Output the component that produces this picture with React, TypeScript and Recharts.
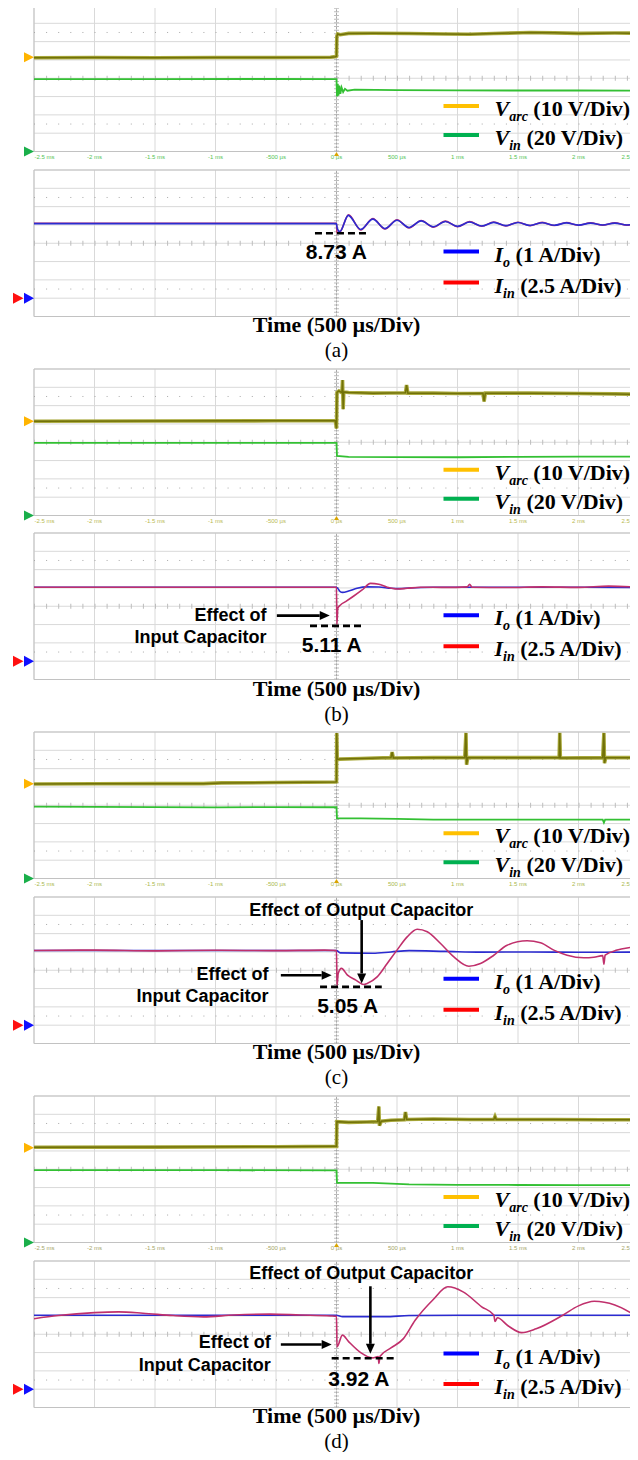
import React from "react";
import { LineChart, Line, XAxis, YAxis, CartesianGrid, ReferenceLine, ReferenceArea } from "recharts";

type P = [number, number];

// ---------- axes ----------
const TICKS = [-2.5, -2, -1.5, -1, -0.5, 0, 0.5, 1, 1.5, 2, 2.5];
const TICK_LABELS = ["-2.5 ms", "-2 ms", "-1.5 ms", "-1 ms", "-500 µs", "0 µs", "500 µs", "1 ms", "1.5 ms", "2 ms", "2.5 ms"];
const GRID_Y = [-4, -3, -2, -1, 0, 1, 2, 3, 4];
const DOT_ROWS = [2.5, -2.5];
const CAPTIONS = ["(a)", "(b)", "(c)", "(d)"];
const PEAK_LABELS = ["8.73 A", "5.11 A", "5.05 A", "3.92 A"];

// ---------- data: [time ms, divisions from centre] ----------
const A_VARC: P[] = [[-2.5, 1.12], [-2.0, 1.13], [-1.5, 1.12], [-1.0, 1.13], [-0.5, 1.13], [-0.05, 1.15], [-0.01, 1.18], [0, 1.2], [0.003, 2.3], [0.01, 2.42], [0.03, 2.38], [0.1, 2.45], [0.3, 2.46], [0.6, 2.44], [0.9, 2.42], [1.1, 2.4], [1.3, 2.44], [1.6, 2.5], [1.8, 2.48], [2.0, 2.45], [2.3, 2.47], [2.5, 2.46]];
const A_VIN: P[] = [[-2.5, -0.05], [-1.5, -0.05], [-0.5, -0.04], [0, -0.05], [0.004, -1.0], [0.01, -0.3], [0.016, -0.95], [0.024, -0.4], [0.032, -0.85], [0.042, -0.5], [0.055, -0.75], [0.07, -0.58], [0.09, -0.68], [0.15, -0.62], [0.5, -0.65], [1.0, -0.66], [1.5, -0.67], [2.0, -0.67], [2.5, -0.68]];
const A_IO: P[] = [[-2.5, 1.07], [-1.5, 1.07], [-0.5, 1.07], [0, 1.07], [0.006, 0.8], [0.028, 0.64], [0.097, 1.52], [0.2, 0.75], [0.3, 1.32], [0.4, 0.8], [0.5, 1.26], [0.6, 0.86], [0.7, 1.22], [0.8, 0.9], [0.9, 1.19], [1.0, 0.92], [1.1, 1.16], [1.2, 0.94], [1.3, 1.14], [1.4, 0.96], [1.5, 1.13], [1.6, 0.97], [1.7, 1.12], [1.8, 0.98], [1.9, 1.11], [2.0, 0.99], [2.1, 1.1], [2.2, 1.0], [2.3, 1.1], [2.4, 1.0], [2.5, 1.08]];
const A_IIN: P[] = [[-2.5, 1.09], [-1.5, 1.09], [-0.5, 1.09], [0, 1.09], [0.004, 0.55], [0.03, 0.62], [0.1, 1.55], [0.2, 0.73], [0.3, 1.35], [0.4, 0.78], [0.5, 1.28], [0.6, 0.84], [0.7, 1.24], [0.8, 0.88], [0.9, 1.21], [1.0, 0.9], [1.1, 1.18], [1.2, 0.93], [1.3, 1.16], [1.4, 0.95], [1.5, 1.15], [1.6, 0.96], [1.7, 1.14], [1.8, 0.97], [1.9, 1.13], [2.0, 0.98], [2.1, 1.12], [2.2, 0.99], [2.3, 1.12], [2.4, 0.99], [2.5, 1.1]];

const B_VARC: P[] = [[-2.5, 1.15], [-1.5, 1.16], [-0.5, 1.17], [-0.01, 1.17], [0, 0.75], [0.004, 2.72], [0.02, 2.8], [0.045, 2.7], [0.05, 3.4], [0.055, 1.8], [0.06, 2.75], [0.1, 2.72], [0.3, 2.68], [0.57, 2.7], [0.579, 3.12], [0.59, 2.68], [0.8, 2.68], [1.0, 2.66], [1.21, 2.67], [1.22, 2.23], [1.23, 2.68], [1.6, 2.68], [2.0, 2.66], [2.3, 2.64], [2.5, 2.62]];
const B_VIN: P[] = [[-2.5, -0.03], [-1.0, -0.03], [0, -0.03], [0.004, -0.75], [0.1, -0.8], [0.5, -0.81], [1.0, -0.82], [1.5, -0.8], [2.0, -0.79], [2.5, -0.79]];
const B_IO: P[] = [[-2.5, 1.04], [-1.0, 1.04], [0, 1.04], [0.03, 0.8], [0.05, 0.76], [0.1, 0.83], [0.17, 0.98], [0.25, 1.06], [0.35, 1.05], [0.45, 0.98], [0.52, 0.96], [0.6, 1.0], [0.8, 1.04], [1.5, 1.04], [2.5, 1.03]];
const B_IIN: P[] = [[-2.5, 1.04], [-1.0, 1.04], [0, 1.04], [0.003, -1.0], [0.011, -0.11], [0.033, 0.07], [0.074, 0.25], [0.143, 0.56], [0.212, 0.89], [0.281, 1.25], [0.35, 1.2], [0.419, 1.04], [0.5, 0.94], [0.584, 0.98], [0.694, 1.04], [0.9, 1.03], [1.08, 1.06], [1.1, 1.2], [1.12, 1.04], [1.4, 1.02], [1.7, 1.06], [2.0, 1.03], [2.25, 1.1], [2.5, 1.04]];

const C_VARC: P[] = [[-2.5, 1.16], [-2.0, 1.17], [-1.5, 1.18], [-1.1, 1.18], [-0.95, 1.22], [-0.5, 1.24], [-0.01, 1.27], [0, 1.28], [0.002, 3.95], [0.006, 2.5], [0.03, 2.52], [0.2, 2.55], [0.45, 2.6], [0.46, 2.9], [0.47, 2.58], [0.8, 2.6], [1.06, 2.6], [1.07, 3.95], [1.075, 2.22], [1.085, 2.6], [1.5, 2.6], [1.84, 2.6], [1.845, 3.95], [1.85, 2.58], [2.2, 2.6], [2.21, 3.95], [2.215, 2.3], [2.225, 2.6], [2.5, 2.6]];
const C_VIN: P[] = [[-2.5, -0.08], [-1.5, -0.1], [-1.0, -0.12], [-0.5, -0.1], [0, -0.11], [0.004, -0.72], [0.2, -0.72], [0.5, -0.74], [0.8, -0.78], [1.2, -0.79], [1.6, -0.78], [2.0, -0.79], [2.2, -0.79], [2.21, -0.95], [2.22, -0.79], [2.5, -0.79]];
const C_IO: P[] = [[-2.5, 1.08], [-1.0, 1.08], [0, 1.08], [0.03, 0.95], [0.3, 0.93], [0.45, 1.0], [0.6, 1.07], [0.9, 1.03], [1.2, 0.99], [1.6, 1.0], [2.0, 0.98], [2.5, 0.99]];
const C_IIN: P[] = [[-2.5, 1.08], [-2.0, 1.1], [-1.5, 1.06], [-1.0, 1.09], [-0.5, 1.07], [-0.1, 1.1], [0, 1.08], [0.004, -0.85], [0.014, -0.18], [0.041, 0.1], [0.091, -0.27], [0.16, -0.54], [0.226, -0.78], [0.253, -0.72], [0.336, -0.36], [0.419, 0.37], [0.5, 1.1], [0.584, 1.82], [0.667, 2.24], [0.75, 2.1], [0.86, 1.46], [0.97, 0.73], [1.094, 0.22], [1.19, 0.37], [1.3, 0.82], [1.41, 1.37], [1.575, 1.61], [1.686, 1.5], [1.796, 1.1], [1.906, 0.82], [2.044, 0.68], [2.127, 0.71], [2.2, 0.8], [2.21, 0.33], [2.22, 0.82], [2.32, 1.1], [2.457, 1.28], [2.5, 1.35]];

const D_VARC: P[] = [[-2.5, 1.2], [-1.5, 1.21], [-0.5, 1.23], [-0.01, 1.25], [0, 1.25], [0.003, 2.6], [0.1, 2.56], [0.25, 2.58], [0.34, 2.6], [0.35, 3.43], [0.355, 2.38], [0.37, 2.62], [0.45, 2.68], [0.56, 2.7], [0.57, 3.12], [0.58, 2.72], [0.8, 2.74], [1.1, 2.72], [1.3, 2.72], [1.31, 2.88], [1.32, 2.72], [1.8, 2.72], [2.2, 2.7], [2.5, 2.7]];
const D_VIN: P[] = [[-2.5, -0.05], [-1.0, -0.05], [0, -0.06], [0.004, -0.74], [0.3, -0.74], [0.6, -0.83], [1.0, -0.85], [1.5, -0.86], [2.0, -0.87], [2.5, -0.87]];
const D_IO: P[] = [[-2.5, 1.04], [-1.0, 1.04], [0, 1.04], [0.05, 0.96], [0.4, 0.96], [0.6, 1.02], [1.0, 1.04], [2.5, 1.04]];
const D_IIN: P[] = [[-2.5, 0.85], [-2.3, 1.02], [-2.0, 1.18], [-1.8, 1.22], [-1.6, 1.15], [-1.35, 1.02], [-1.1, 0.95], [-0.85, 1.05], [-0.55, 1.1], [-0.3, 1.05], [-0.05, 1.0], [0, 0.98], [0.004, -0.69], [0.049, -0.05], [0.1, -0.4], [0.2, -1.0], [0.3, -1.29], [0.345, -1.22], [0.35, -1.6], [0.36, -1.2], [0.45, -0.75], [0.553, -0.24], [0.65, 0.76], [0.8, 1.9], [0.92, 2.59], [1.05, 2.3], [1.2, 1.5], [1.3, 1.05], [1.31, 0.7], [1.33, 0.9], [1.42, 0.45], [1.53, 0.09], [1.65, 0.3], [1.87, 1.04], [2.0, 1.55], [2.13, 1.8], [2.3, 1.6], [2.5, 0.9]];

// ground-level markers (divisions)
const VARC_GND = [1.14, 1.15, 1.18, 1.18];
const VIN_GND = -4;
const I_GND = -3;

// annotation geometry in data units [t, div]
const DASH_SEG: P[][] = [[[-0.178, 0.55], [0.25, 0.55]], [[-0.219, -1.07], [0.211, -1.07]], [[-0.136, -0.91], [0.374, -0.91]], [[-0.04, -1.31], [0.482, -1.31]]];
const IN_ARROW: (P[] | null)[] = [null, [[-0.493, -0.51], [-0.056, -0.51]], [[-0.46, -0.27], [-0.04, -0.27]], [[-0.46, -0.56], [-0.04, -0.56]]];
const OUT_ARROW: (P[] | null)[] = [null, null, [[0.208, 2.74], [0.208, -0.72]], [[0.28, 2.62], [0.28, -1.07]]];

// ---------- layout ----------
const PL = 34;
const PW = 605;
const PH = 146.5;
const TOPS = [5, 368.67, 732.33, 1096];
const TICK_COLORS = ["#55c455", "#b9b952", "#aab84e", "#a6a66a"];
const C_VARC_HALO = "#a9a93c";
const C_VARC_LINE = "#717108";
const C_VIN_LINE = "#33c033";
const C_IO_LINE = "#2b2bd0";
const C_IIN_LINE = "#c0306c";
const SERIF = "'Liberation Serif', 'Times New Roman', serif";
const SANS = "'Liberation Sans', Arial, sans-serif";

const toData = (a: P[]) => a.map(([t, v]) => ({ t, v }));
const seg = (s: P[]) => s.map(([x, y]) => ({ x, y }));

const arrowShape = (props: any) => {
  const { x1, y1, x2, y2 } = props;
  const ang = Math.atan2(y2 - y1, x2 - x1);
  const L = 10;
  const W = 4.5;
  const bx = x2 - L * Math.cos(ang);
  const by = y2 - L * Math.sin(ang);
  const px = -Math.sin(ang) * W;
  const py = Math.cos(ang) * W;
  return (
    <g>
      <line x1={x1} y1={y1} x2={bx} y2={by} stroke="#000" strokeWidth={2.6} />
      <polygon points={`${x2},${y2} ${bx + px},${by + py} ${bx - px},${by - py}`} fill="#000" />
    </g>
  );
};

function gridParts() {
  return [
    <ReferenceArea key="ba" x1={-2.5} x2={2.5} y1={-4} y2={4} fill="none" stroke="#c2c2c2" strokeWidth={1} ifOverflow="visible" />,
    ...DOT_ROWS.map((r) => (
      <ReferenceLine key={"dr" + r} y={r} stroke="#a8a8a8" strokeWidth={1} strokeDasharray={`1 ${PW / 50 - 1}`} />
    )),
    <ReferenceLine key="ch" y={0} stroke="#bdbdbd" strokeWidth={5} strokeDasharray={`1 ${PW / 50 - 1}`} />,
    <ReferenceLine key="cv" x={0} stroke="#bdbdbd" strokeWidth={5} strokeDasharray={`1 ${PH / 40 - 1}`} />,
    <ReferenceLine key="cv2" x={0} stroke="#a9a9a9" strokeWidth={1} strokeDasharray="2 1.5" />,
  ];
}

function VoltScope({ idx, varc, vin }: { idx: number; varc: P[]; vin: P[] }) {
  const top = TOPS[idx];
  const tickColor = TICK_COLORS[idx];
  const xTick = (props: any) => {
    const { x, y, index } = props;
    const label = TICK_LABELS[index];
    let anchor: "start" | "middle" | "end" = "middle";
    let tx = x;
    if (index === 0) { anchor = "start"; tx = x + 0.5; }
    if (index === TICKS.length - 1) { anchor = "end"; tx = x + 0.5; }
    return (
      <g>
        <text x={tx} y={y + 7.6} textAnchor={anchor} fontSize={6} fontFamily={SANS} fill={tickColor}>{label}</text>
        {TICKS[index] === 0 ? <polygon points={`${x},${y + 0.5} ${x - 2.5},${y + 4.5} ${x + 2.5},${y + 4.5}`} fill="#d9a400" /> : null}
      </g>
    );
  };
  const yTick = (props: any) => {
    const { x, y, index } = props;
    const col = index === 0 ? "#ffb400" : "#1aaf4a";
    return <polygon points={`${x - 10},${y - 5} ${x},${y} ${x - 10},${y + 5}`} fill={col} />;
  };
  const d = toData(varc);
  return (
    <div style={{ position: "absolute", left: 0, top: top - 1 }}>
      <LineChart width={PL + PW} height={1 + PH + 12} margin={{ top: 1, right: 0, bottom: 0, left: 0 }}>
        <CartesianGrid stroke="#d9d9d9" horizontalValues={GRID_Y} verticalValues={TICKS} fill="none" />
        <XAxis type="number" dataKey="t" domain={[-2.5, 2.5]} ticks={TICKS} interval={0} allowDataOverflow height={12} axisLine={false} tickLine={false} tickSize={0} tickMargin={0} tick={xTick} />
        <YAxis type="number" domain={[-4, 4]} ticks={[VARC_GND[idx], VIN_GND]} interval={0} allowDataOverflow width={PL} axisLine={false} tickLine={false} tickSize={0} tickMargin={0} tick={yTick} />
        {gridParts()}
        <Line data={toData(vin)} dataKey="v" type="linear" stroke={C_VIN_LINE} strokeWidth={1.8} dot={false} isAnimationActive={false} />
        <Line data={d} dataKey="v" type="linear" stroke={C_VARC_HALO} strokeWidth={3.6} dot={false} isAnimationActive={false} />
        <Line data={d} dataKey="v" type="linear" stroke={C_VARC_LINE} strokeWidth={1.5} dot={false} isAnimationActive={false} />
      </LineChart>
    </div>
  );
}

function CurScope({ idx, io, iin }: { idx: number; io: P[]; iin: P[] }) {
  const top = TOPS[idx] + 164.5;
  const yTick = (props: any) => {
    const { x, y } = props;
    return (
      <g>
        <polygon points={`${x - 10},${y - 5.5} ${x},${y} ${x - 10},${y + 5.5}`} fill="#1010ff" />
        <polygon points={`${x - 21},${y - 5.5} ${x - 10.5},${y} ${x - 21},${y + 5.5}`} fill="#ff1010" />
      </g>
    );
  };
  const blueFirst = idx !== 0;
  const blue = <Line key="io" data={toData(io)} dataKey="v" type="monotone" stroke={C_IO_LINE} strokeWidth={1.6} dot={false} isAnimationActive={false} />;
  const red = <Line key="iin" data={toData(iin)} dataKey="v" type="monotone" stroke={C_IIN_LINE} strokeWidth={1.6} dot={false} isAnimationActive={false} />;
  const dash = DASH_SEG[idx];
  const ia = IN_ARROW[idx];
  const oa = OUT_ARROW[idx];
  return (
    <div style={{ position: "absolute", left: 0, top: top - 1 }}>
      <LineChart width={PL + PW} height={2 + PH} margin={{ top: 1, right: 0, bottom: 1, left: 0 }}>
        <CartesianGrid stroke="#d9d9d9" horizontalValues={GRID_Y} verticalValues={TICKS} fill="none" />
        <XAxis type="number" dataKey="t" domain={[-2.5, 2.5]} ticks={TICKS} allowDataOverflow hide />
        <YAxis type="number" domain={[-4, 4]} ticks={[I_GND]} interval={0} allowDataOverflow width={PL} axisLine={false} tickLine={false} tickSize={0} tickMargin={0} tick={yTick} />
        {gridParts()}
        {blueFirst ? [blue, red] : [red, blue]}
        <ReferenceLine segment={seg(dash)} stroke="#000" strokeWidth={2.6} strokeDasharray="7 4" ifOverflow="visible" />
        {ia ? <ReferenceLine segment={seg(ia)} shape={arrowShape} ifOverflow="visible" /> : null}
        {oa ? <ReferenceLine segment={seg(oa)} shape={arrowShape} ifOverflow="visible" /> : null}
      </LineChart>
    </div>
  );
}

function LegendItem({ y, color, main, sub, rest }: { y: number; color: string; main: string; sub: string; rest: string }) {
  return (
    <g>
      <line x1={443.5} x2={479} y1={y} y2={y} stroke={color} strokeWidth={4} />
      <text x={494.5} y={y + 10} fontFamily={SERIF} fontWeight="bold" fontSize={22} fill="#000">
        <tspan fontStyle="italic">{main}</tspan>
        <tspan fontStyle="italic" fontSize={14} dy={5}>{sub}</tspan>
        <tspan dy={-5}>{" " + rest}</tspan>
      </text>
    </g>
  );
}

const TEXT_POS = [
  { peak: [336.3, 259.3], eff: null, out: null },
  { peak: [331.8, 652], eff: [266.6, 621, 643], out: null },
  { peak: [347.7, 1012.7], eff: [268.6, 980, 1002], out: [361.2, 916] },
  { peak: [358.8, 1386], eff: [270.7, 1348, 1370.5], out: [361.2, 1279] },
];
const CUR_LEG_OFF = [[246.5, 277.5], [246.5, 277.5], [246.5, 277.5], [257.5, 288]];

function Overlay() {
  return (
    <svg width={638} height={1460} style={{ position: "absolute", left: 0, top: 0, pointerEvents: "none" }}>
      {TOPS.map((T, i) => {
        const tp = TEXT_POS[i];
        return (
          <g key={i}>
            <LegendItem y={T + 101} color="#ffc000" main="V" sub="arc" rest="(10 V/Div)" />
            <LegendItem y={T + 130} color="#00b050" main="V" sub="in" rest="(20 V/Div)" />
            <LegendItem y={T + CUR_LEG_OFF[i][0]} color="#0000ff" main="I" sub="o" rest="(1 A/Div)" />
            <LegendItem y={T + CUR_LEG_OFF[i][1]} color="#ff0000" main="I" sub="in" rest="(2.5 A/Div)" />
            <text x={336.5} y={T + 327} textAnchor="middle" fontFamily={SERIF} fontWeight="bold" fontSize={22}>Time (500 µs/Div)</text>
            <text x={336.5} y={T + 352} textAnchor="middle" fontFamily={SERIF} fontSize={21}>{CAPTIONS[i]}</text>
            <text x={tp.peak[0]} y={tp.peak[1]} textAnchor="middle" fontFamily={SANS} fontWeight="bold" fontSize={21}>{PEAK_LABELS[i]}</text>
            {tp.eff ? (
              <g fontFamily={SANS} fontWeight="bold" fontSize={18}>
                <text x={tp.eff[0]} y={tp.eff[1]} textAnchor="end">Effect of</text>
                <text x={tp.eff[0]} y={tp.eff[2]} textAnchor="end">Input Capacitor</text>
              </g>
            ) : null}
            {tp.out ? (
              <text x={tp.out[0]} y={tp.out[1]} textAnchor="middle" fontFamily={SANS} fontWeight="bold" fontSize={18}>Effect of Output Capacitor</text>
            ) : null}
          </g>
        );
      })}
    </svg>
  );
}

export default function App() {
  return (
    <div style={{ position: "relative", width: 638, height: 1460, margin: -8, overflow: "hidden", background: "#fff" }}>
      <VoltScope idx={0} varc={A_VARC} vin={A_VIN} />
      <CurScope idx={0} io={A_IO} iin={A_IIN} />
      <VoltScope idx={1} varc={B_VARC} vin={B_VIN} />
      <CurScope idx={1} io={B_IO} iin={B_IIN} />
      <VoltScope idx={2} varc={C_VARC} vin={C_VIN} />
      <CurScope idx={2} io={C_IO} iin={C_IIN} />
      <VoltScope idx={3} varc={D_VARC} vin={D_VIN} />
      <CurScope idx={3} io={D_IO} iin={D_IIN} />
      <Overlay />
    </div>
  );
}
